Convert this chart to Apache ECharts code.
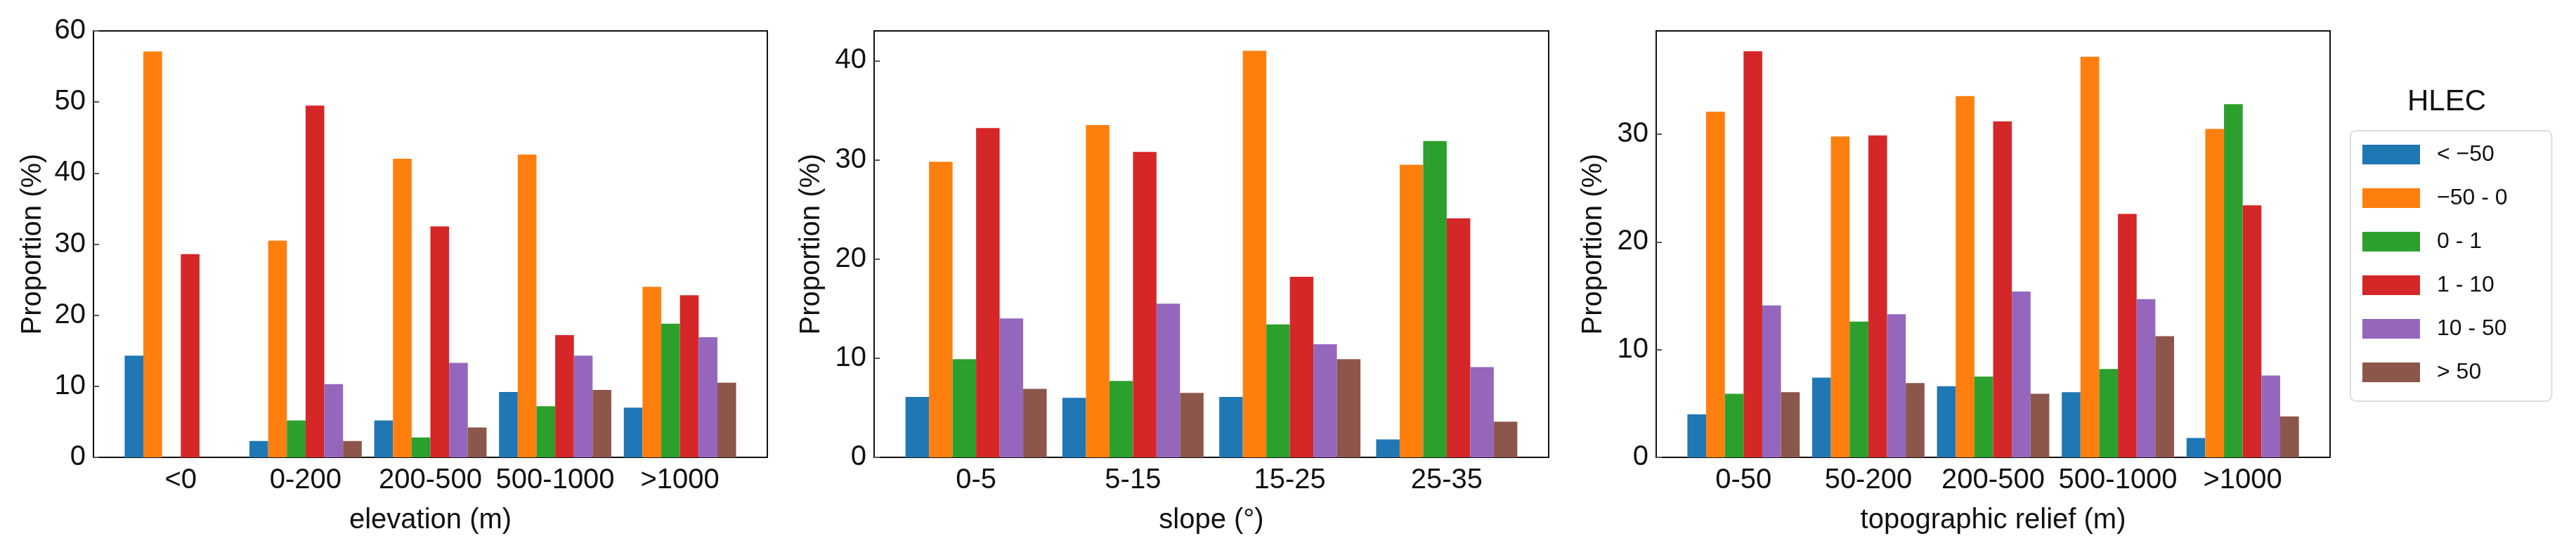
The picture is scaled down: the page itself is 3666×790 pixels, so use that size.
<!DOCTYPE html>
<html>
<head>
<meta charset="utf-8">
<script src="https://cdn.jsdelivr.net/npm/echarts@6/dist/echarts.min.js"></script>
<style>
  html, body { margin: 0; padding: 0; background: #fff; }
  #chart { width: 3666px; height: 790px; }
</style>
</head>
<body>
<div id="chart"></div>
<script>
// HLEC classes (legend)
var hlecNames = ['< \u221250', '\u221250 - 0', '0 - 1', '1 - 10', '10 - 50', '> 50'];
var hlecColors = ['#1f77b4', '#ff7f0e', '#2ca02c', '#d62728', '#9467bd', '#8c564b'];

// panel 1 : elevation
var elevCats = ['<0', '0-200', '200-500', '500-1000', '>1000'];
var elevVals = [
    [14.3, 2.3, 5.2, 9.2, 7.0],     // < -50
    [57.1, 30.5, 42.0, 42.6, 24.0], // -50 - 0
    [0, 5.2, 2.8, 7.2, 18.8],       // 0 - 1
    [28.6, 49.5, 32.5, 17.2, 22.8], // 1 - 10
    [0, 10.3, 13.3, 14.3, 16.9],    // 10 - 50
    [0, 2.3, 4.2, 9.5, 10.5]        // > 50
];

// panel 2 : slope
var slopeCats = ['0-5', '5-15', '15-25', '25-35'];
var slopeVals = [
    [6.1, 6.0, 6.1, 1.8],
    [29.8, 33.5, 41.0, 29.5],
    [9.9, 7.7, 13.4, 31.9],
    [33.2, 30.8, 18.2, 24.1],
    [14.0, 15.5, 11.4, 9.1],
    [6.9, 6.5, 9.9, 3.6]
];

// panel 3 : topographic relief
var reliefCats = ['0-50', '50-200', '200-500', '500-1000', '>1000'];
var reliefVals = [
    [4.0, 7.4, 6.6, 6.05, 1.8],
    [32.1, 29.8, 33.55, 37.2, 30.5],
    [5.9, 12.6, 7.5, 8.2, 32.8],
    [37.7, 29.9, 31.2, 22.6, 23.4],
    [14.1, 13.3, 15.4, 14.7, 7.6],
    [6.05, 6.9, 5.9, 11.25, 3.8]
];

var font = "'Liberation Sans', Arial, sans-serif";

var panels = [
    {cats: elevCats, vals: elevVals, xName: 'elevation (m)', left: 133, width: 959, xmin: -0.7, xmax: 4.7, ymax: 60, nameGap: 66},
    {cats: slopeCats, vals: slopeVals, xName: 'slope (\u00b0)', left: 1244, width: 960, xmin: -0.65, xmax: 3.65, ymax: 43, nameGap: 69},
    {cats: reliefCats, vals: reliefVals, xName: 'topographic relief (m)', left: 2357, width: 959, xmin: -0.7, xmax: 4.7, ymax: 39.6, nameGap: 69}
];

var grids = [], xAxes = [], yAxes = [], series = [];

panels.forEach(function (p, k) {
    grids.push({
        left: p.left, top: 44, width: p.width, height: 607,
        show: true, borderColor: '#111', borderWidth: 2, backgroundColor: '#fff'
    });
    var ticks = p.cats.map(function (c, i) { return i; });
    xAxes.push({
        type: 'value', gridIndex: k, min: p.xmin, max: p.xmax,
        name: p.xName, nameLocation: 'middle', nameGap: 70,
        nameTextStyle: {fontSize: 40, color: '#111', fontFamily: font},
        axisLine: {show: false, onZero: false},
        axisTick: {show: false},
        splitLine: {show: false},
        axisLabel: {
            customValues: ticks,
            margin: 13, fontSize: 40, color: '#111', fontFamily: font,
            formatter: (function (cats) {
                return function (v) { return cats[Math.round(v)]; };
            })(p.cats)
        }
    });
    yAxes.push({
        type: 'value', gridIndex: k, min: 0, max: p.ymax, interval: 10,
        name: 'Proportion (%)', nameLocation: 'middle', nameGap: p.nameGap,
        nameTextStyle: {fontSize: 40, color: '#111', fontFamily: font},
        axisLine: {show: false, onZero: false},
        axisTick: {show: true, inside: true, length: 8, lineStyle: {color: '#555', width: 2}},
        splitLine: {show: false},
        axisLabel: {margin: 11, fontSize: 40, color: '#111', fontFamily: font, showMaxLabel: k === 0}
    });
    p.vals.forEach(function (arr, s) {
        series.push({
            type: 'bar', name: hlecNames[s],
            xAxisIndex: k, yAxisIndex: k,
            barGap: '0%', barCategoryGap: '10%',
            itemStyle: {color: hlecColors[s]},
            data: arr.map(function (v, i) { return [i, v]; })
        });
    });
});

var myChart = echarts.init(document.getElementById('chart'));
var option = {
    animation: false,
    backgroundColor: '#fff',
    // 图例标题
    title: {
        text: 'HLEC', left: 3477, top: 119, textAlign: 'center',
        textStyle: {fontSize: 42, fontWeight: 'normal', color: '#111', fontFamily: font}
    },
    legend: {
        data: hlecNames,
        orient: 'vertical', left: 3345, top: 186,
        padding: [18, 63, 25, 17],
        borderColor: '#ddd', borderWidth: 2, borderRadius: 8,
        itemWidth: 82, itemHeight: 28, itemGap: 30,
        icon: 'rect',
        textStyle: {fontSize: 32, color: '#111', fontFamily: font, padding: [0, 0, 0, 19]}
    },
    grid: grids,
    xAxis: xAxes,
    yAxis: yAxes,
    series: series
};
myChart.setOption(option);
</script>
</body>
</html>
